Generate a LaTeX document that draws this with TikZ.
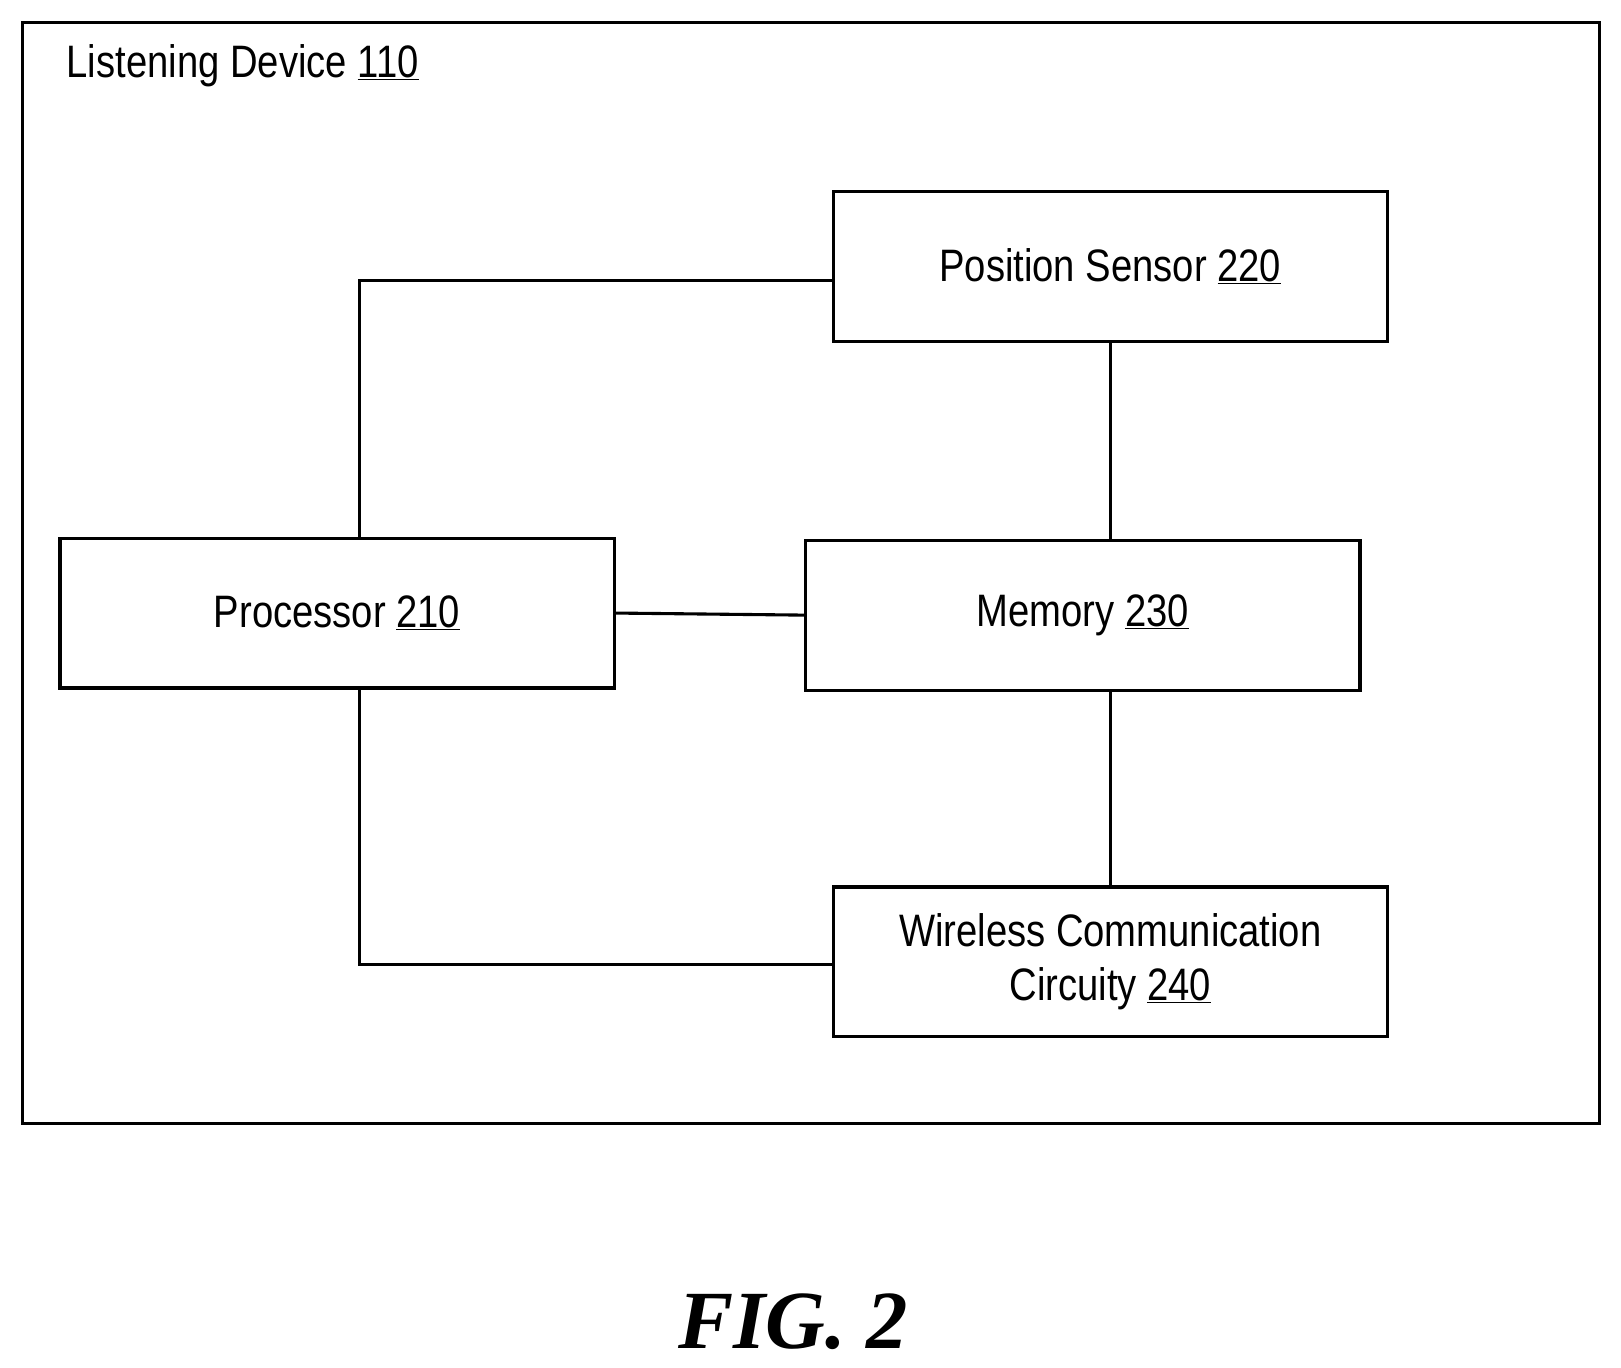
\documentclass[tikz,border=0pt]{standalone}
\usepackage{fontspec}
\setmainfont[FakeStretch=0.84]{Liberation Sans}
\newfontfamily\figfont{Liberation Serif}
\begin{document}
\begin{tikzpicture}[x=1pt,y=-1pt,line width=3pt,
  box/.style={draw,minimum width=536pt,minimum height=145pt,inner sep=0pt,font=\fontsize{44}{52}\selectfont,align=center},
  conn/.style={draw,line width=3pt}]
\useasboundingbox (0,0) rectangle (1568,1323);
\draw (22,22) rectangle (1547,1087);
\node[anchor=base west,font=\fontsize{44}{52}\selectfont,inner sep=0pt] (title) at (63,75) {Listening Device \underline{110}};
\node[box] (ps) at (1074,257.5) {Position Sensor \underline{220}};
\node[box] (proc) at (326,593) {Processor \underline{210}};
\node[box] (mem) at (1047.5,595) {Memory \underline{230}};
\node[box] (wl) at (1074,930.5) {Wireless Communication\\Circuity \underline{240}};
\coordinate (c1) at (348,271);
\coordinate (c2) at (348,933);
\draw[conn] (proc.north -| c1) -- (c1) -- (c1 -| ps.west);
\draw[conn] (proc.south -| c2) -- (c2) -- (c2 -| wl.west);
\draw[conn] (proc.east) -- (mem.west);
\draw[conn] (ps.south) -- (ps.south |- mem.north);
\draw[conn] (wl.north) -- (wl.north |- mem.south);
\node[font=\figfont\bfseries\itshape\fontsize{80}{90}\selectfont] (fig) at (767,1278) {FIG. 2};
\end{tikzpicture}
\end{document}
